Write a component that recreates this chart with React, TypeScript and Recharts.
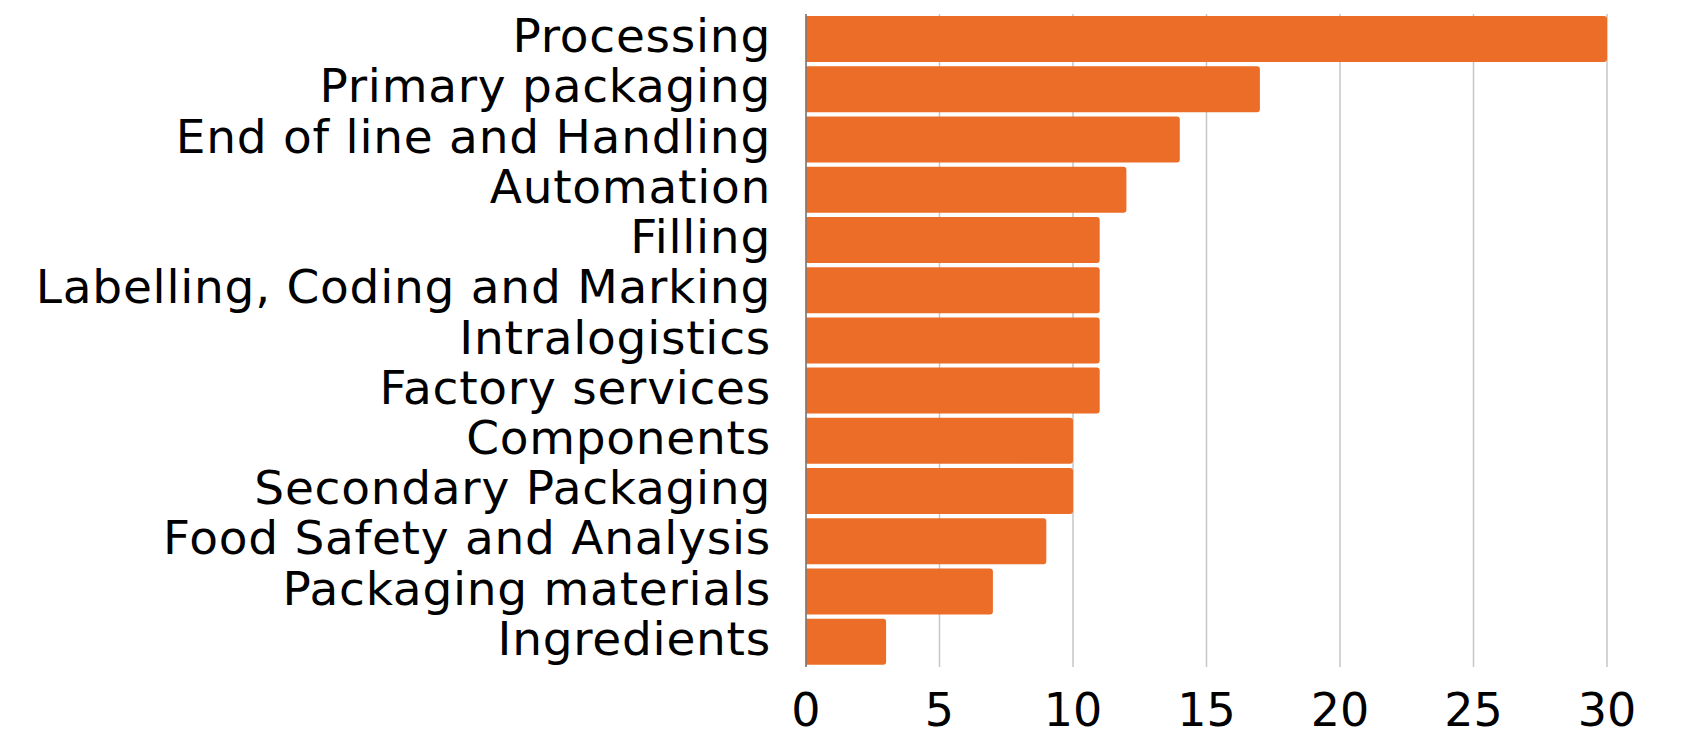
import React from "react";
import { BarChart, Bar, XAxis, YAxis, CartesianGrid } from "recharts";

const categories = [
  "Processing",
  "Primary packaging",
  "End of line and Handling",
  "Automation",
  "Filling",
  "Labelling, Coding and Marking",
  "Intralogistics",
  "Factory services",
  "Components",
  "Secondary Packaging",
  "Food Safety and Analysis",
  "Packaging materials",
  "Ingredients",
];
const values = [30, 17, 14, 12, 11, 11, 11, 11, 10, 10, 9, 7, 3];
const xTicks = [0, 5, 10, 15, 20, 25, 30];

const data = categories.map((name, i) => ({ name, value: values[i] }));

const FONT = "'DejaVu Sans', sans-serif";

const YTick = (props: any) => {
  const { y, payload } = props;
  return (
    <text
      x={771}
      y={y + 13}
      textAnchor="end"
      fontFamily={FONT}
      fontSize={47}
      letterSpacing={0.75}
      fill="#000"
    >
      {payload.value}
    </text>
  );
};

const XTick = (props: any) => {
  const { x, payload } = props;
  return (
    <text x={x} y={726} textAnchor="middle" fontFamily={FONT} fontSize={46} fill="#000">
      {payload.value}
    </text>
  );
};

export default function App() {
  return (
    <div style={{ position: "absolute", left: 0, top: 0, background: "#fff" }}>
      <BarChart
        width={1688}
        height={731}
        data={data}
        layout="vertical"
        margin={{ top: 14, right: 81, bottom: 0, left: 0 }}
      >
        <CartesianGrid horizontal={false} stroke="#c6c6c6" strokeWidth={1.5} />
        <XAxis
          type="number"
          domain={[0, 30]}
          ticks={xTicks}
          height={64}
          axisLine={false}
          tickLine={false}
          tick={<XTick />}
          interval={0}
        />
        <YAxis
          type="category"
          dataKey="name"
          width={806}
          tickLine={false}
          axisLine={{ stroke: "#777777", strokeWidth: 1.5 }}
          tick={<YTick />}
          interval={0}
        />
        <Bar dataKey="value" fill="#EC6D27" barSize={46} radius={[0, 3, 3, 0]} isAnimationActive={false} />
      </BarChart>
    </div>
  );
}
